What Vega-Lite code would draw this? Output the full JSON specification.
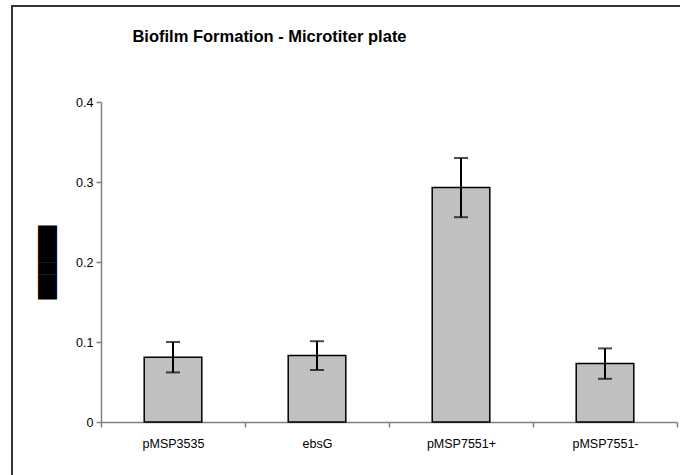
{
  "$schema": "https://vega.github.io/schema/vega-lite/v6.json",
  "width": 669,
  "height": 469,
  "autosize": {"type": "none"},
  "padding": {"left": 12, "top": 6, "right": 0, "bottom": 0},
  "background": "white",
  "view": {
    "stroke": "#333333",
    "strokeWidth": 2,
    "strokeDash": [1137, 1139],
    "strokeDashOffset": 469
  },
  "title": {
    "text": "Biofilm Formation - Microtiter plate",
    "font": "Liberation Sans",
    "fontSize": 16.5,
    "fontWeight": "bold",
    "color": "black",
    "anchor": "middle",
    "baseline": "alphabetic",
    "dx": -77,
    "offset": -52
  },
  "config": {
    "axis": {
      "labelFont": "Liberation Sans",
      "labelFontSize": 12.5,
      "labelColor": "black",
      "domainColor": "#808080",
      "tickColor": "#808080",
      "domainWidth": 1.5,
      "tickWidth": 1.5,
      "grid": false
    }
  },
  "data": {
    "values": [
      {"strain": "pMSP3535", "od": 0.081, "sd": 0.019},
      {"strain": "ebsG", "od": 0.083, "sd": 0.018},
      {"strain": "pMSP7551+", "od": 0.293, "sd": 0.037},
      {"strain": "pMSP7551-", "od": 0.073, "sd": 0.019}
    ]
  },
  "encoding": {
    "x": {
      "field": "strain",
      "type": "nominal",
      "sort": null,
      "scale": {"type": "band", "paddingInner": 0, "paddingOuter": 0, "range": [89, 665]},
      "axis": {
        "title": null,
        "offset": -53,
        "tickBand": "extent",
        "tickSize": 5,
        "labelPadding": 10,
        "labelAngle": 0
      }
    },
    "y": {
      "field": "od",
      "type": "quantitative",
      "scale": {"domain": [0, 0.4], "range": [416, 96], "nice": false, "zero": true},
      "axis": {
        "values": [0, 0.1, 0.2, 0.3, 0.4],
        "labelExpr": "datum.value == 0 ? '0' : format(datum.value, '.1f')",
        "offset": -89,
        "tickSize": 5,
        "labelPadding": 3,
        "title": "██████",
        "titleFont": "DejaVu Sans",
        "titleFontSize": 16,
        "titleFontWeight": "normal",
        "titleColor": "black",
        "titlePadding": 20
      }
    }
  },
  "layer": [
    {
      "mark": {
        "type": "bar",
        "width": {"band": 0.4},
        "fill": "#c0c0c0",
        "stroke": "black",
        "strokeWidth": 1.5
      }
    },
    {
      "mark": {
        "type": "errorbar",
        "ticks": true,
        "size": 14,
        "thickness": 2,
        "color": "black"
      },
      "encoding": {
        "yError": {"field": "sd"}
      }
    }
  ]
}
